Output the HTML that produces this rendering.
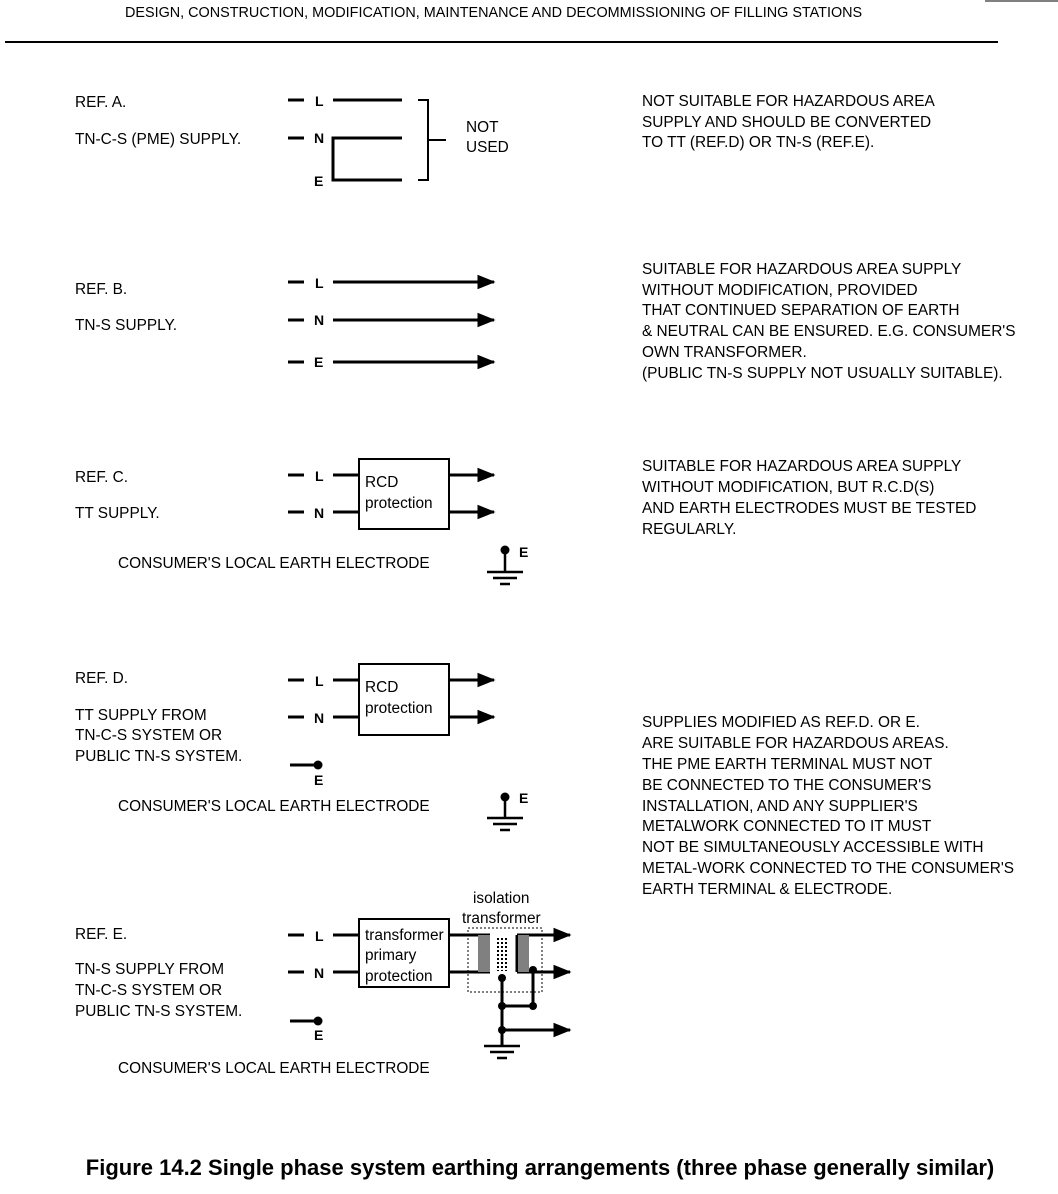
<!DOCTYPE html>
<html><head><meta charset="utf-8"><style>
html,body{margin:0;padding:0;background:#fff}
svg{display:block}
text{font-family:"Liberation Sans",Arial,sans-serif;fill:#000}
</style></head><body>
<svg width="1058" height="1194" viewBox="0 0 1058 1194" xmlns="http://www.w3.org/2000/svg">
<defs>
<marker id="ar" markerWidth="6" markerHeight="6" refX="5.5" refY="3" orient="auto" markerUnits="strokeWidth">
<path d="M0,0.6 L6,3 L0,5.4 Z" fill="#000"/></marker>
</defs>
<text x="125" y="17" font-size="14.4" fill="#222">DESIGN, CONSTRUCTION, MODIFICATION, MAINTENANCE AND DECOMMISSIONING OF FILLING STATIONS</text>
<line x1="5" y1="42" x2="998" y2="42" stroke="#000" stroke-width="2"/>
<line x1="985" y1="1" x2="1058" y2="1" stroke="#000" stroke-width="1"/>

<g font-size="15.4">
<text x="75" y="107">REF. A.</text>
<text x="75" y="144">TN-C-S (PME) SUPPLY.</text>
<text x="75" y="294">REF. B.</text>
<text x="75" y="330">TN-S SUPPLY.</text>
<text x="75" y="482">REF. C.</text>
<text x="75" y="518">TT SUPPLY.</text>
<text x="118" y="568">CONSUMER'S LOCAL EARTH ELECTRODE</text>
<text x="75" y="683">REF. D.</text>
<text x="75" y="720">TT SUPPLY FROM</text>
<text x="75" y="740">TN-C-S SYSTEM OR</text>
<text x="75" y="761">PUBLIC TN-S SYSTEM.</text>
<text x="118" y="811">CONSUMER'S LOCAL EARTH ELECTRODE</text>
<text x="75" y="939">REF. E.</text>
<text x="75" y="974">TN-S SUPPLY FROM</text>
<text x="75" y="995">TN-C-S SYSTEM OR</text>
<text x="75" y="1016">PUBLIC TN-S SYSTEM.</text>
<text x="118" y="1073">CONSUMER'S LOCAL EARTH ELECTRODE</text>
<text x="466" y="132">NOT</text>
<text x="466" y="152">USED</text>
<text x="642" y="106">NOT SUITABLE FOR HAZARDOUS AREA</text>
<text x="642" y="127">SUPPLY AND SHOULD BE CONVERTED</text>
<text x="642" y="147">TO TT (REF.D) OR TN-S (REF.E).</text>
<text x="642" y="274">SUITABLE FOR HAZARDOUS AREA SUPPLY</text>
<text x="642" y="295">WITHOUT MODIFICATION, PROVIDED</text>
<text x="642" y="315">THAT CONTINUED SEPARATION OF EARTH</text>
<text x="642" y="336">&amp; NEUTRAL CAN BE ENSURED. E.G. CONSUMER'S</text>
<text x="642" y="357">OWN TRANSFORMER.</text>
<text x="642" y="378">(PUBLIC TN-S SUPPLY NOT USUALLY SUITABLE).</text>
<text x="642" y="471">SUITABLE FOR HAZARDOUS AREA SUPPLY</text>
<text x="642" y="492">WITHOUT MODIFICATION, BUT R.C.D(S)</text>
<text x="642" y="513">AND EARTH ELECTRODES MUST BE TESTED</text>
<text x="642" y="534">REGULARLY.</text>
<text x="642" y="727">SUPPLIES MODIFIED AS REF.D. OR E.</text>
<text x="642" y="748">ARE SUITABLE FOR HAZARDOUS AREAS.</text>
<text x="642" y="769">THE PME EARTH TERMINAL MUST NOT</text>
<text x="642" y="790">BE CONNECTED TO THE CONSUMER'S</text>
<text x="642" y="811">INSTALLATION, AND ANY SUPPLIER'S</text>
<text x="642" y="831">METALWORK CONNECTED TO IT MUST</text>
<text x="642" y="852">NOT BE SIMULTANEOUSLY ACCESSIBLE WITH</text>
<text x="642" y="873">METAL-WORK CONNECTED TO THE CONSUMER'S</text>
<text x="642" y="894">EARTH TERMINAL &amp; ELECTRODE.</text>
<text x="365" y="487">RCD</text>
<text x="365" y="508">protection</text>
<text x="365" y="692">RCD</text>
<text x="365" y="713">protection</text>
<text x="365" y="940">transformer</text>
<text x="365" y="960">primary</text>
<text x="365" y="981">protection</text>
<text x="473" y="903">isolation</text>
<text x="462" y="923">transformer</text>
</g>

<g font-size="14" font-weight="bold">
<text x="315" y="106">L</text><text x="314" y="143">N</text><text x="314" y="186">E</text>
<text x="315" y="288">L</text><text x="314" y="325">N</text><text x="314" y="367">E</text>
<text x="315" y="481">L</text><text x="314" y="518">N</text>
<text x="315" y="686">L</text><text x="314" y="723">N</text><text x="314" y="785">E</text>
<text x="315" y="941">L</text><text x="314" y="978">N</text><text x="314" y="1040">E</text>
<text x="519" y="557">E</text><text x="519" y="803">E</text>
</g>

<g stroke="#000" stroke-width="3" fill="none">
<path d="M288 100H304M288 138H304M288 282H304M288 320H304M288 362H304M288 475H304M288 512H304M288 680H304M288 717H304M288 935H304M288 972H304"/>
<path d="M290 765H318M290 1021H318"/>
<path d="M333 100H402M402 138H333V180H402"/>
<path d="M418 100H428V180H418M428 140H446" stroke-width="2"/>
<path d="M333 282H494" marker-end="url(#ar)"/>
<path d="M333 320H494" marker-end="url(#ar)"/>
<path d="M333 362H494" marker-end="url(#ar)"/>
<path d="M333 475H359M333 512H359"/>
<rect x="359" y="459" width="90" height="70" stroke-width="2"/>
<path d="M449 475H494" marker-end="url(#ar)"/>
<path d="M449 512H494" marker-end="url(#ar)"/>
<path d="M333 680H359M333 717H359"/>
<rect x="359" y="664" width="90" height="71" stroke-width="2"/>
<path d="M449 680H494" marker-end="url(#ar)"/>
<path d="M449 717H494" marker-end="url(#ar)"/>
<path d="M333 935H359M333 972H359"/>
<rect x="359" y="919" width="90" height="68" stroke-width="2"/>
<path d="M449 935H490M449 972H490"/>
<path d="M517 935H570" marker-end="url(#ar)"/>
<path d="M517 972H570" marker-end="url(#ar)"/>
<path d="M502 1030H570" marker-end="url(#ar)"/>
<path d="M517 935V972"/>
<path d="M502 978V1046M502 1006H533V970"/>
</g>
<rect x="468" y="928" width="74" height="64" fill="none" stroke="#000" stroke-width="1" stroke-dasharray="2,2"/>
<rect x="478" y="935" width="12" height="37" fill="#808080"/>
<rect x="518" y="935" width="11" height="37" fill="#808080"/>
<g fill="#000">
<path d="M498 938v33M502 938v33M506 938v33" stroke="#000" stroke-width="2" stroke-dasharray="2,2"/>
<circle cx="502" cy="978" r="4"/><circle cx="533" cy="970" r="4"/>
<circle cx="502" cy="1006" r="4"/><circle cx="533" cy="1006" r="4"/><circle cx="502" cy="1030" r="4"/>
<circle cx="318" cy="765" r="4.5"/><circle cx="318" cy="1021" r="4.5"/>
<circle cx="505" cy="550" r="4.5"/><circle cx="505" cy="797" r="4.5"/>
</g>
<g stroke="#000" stroke-width="2.5">
<path d="M505 550V572M487 572H523M493 578H517M500 584H510"/>
<path d="M505 797V818M487 818H523M493 824H517M500 830H510"/>
<path d="M502 1046H484M502 1046H520M490 1052H514M497 1058H507"/>
</g>

<text x="540" y="1175" font-size="22" font-weight="bold" text-anchor="middle">Figure 14.2 Single phase system earthing arrangements (three phase generally similar)</text>
</svg>
</body></html>
